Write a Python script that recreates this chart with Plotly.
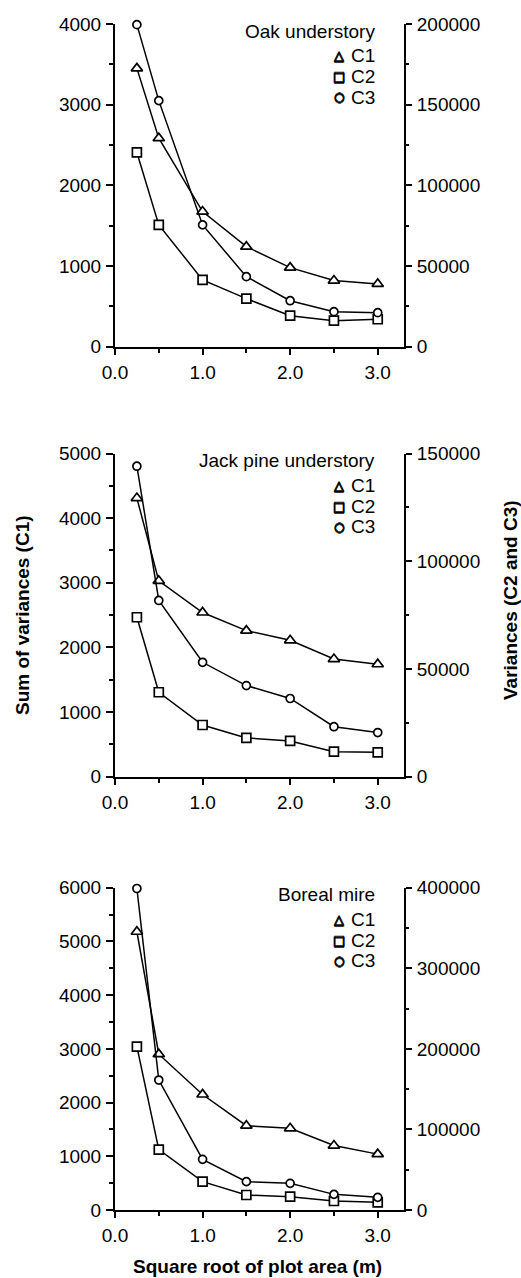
import plotly.graph_objects as go
from plotly.subplots import make_subplots

# square root of plot area (m)
x_root = [0.25, 0.5, 1.0, 1.5, 2.0, 2.5, 3.0]

# Oak understory
oak_c1 = [3450, 2585, 1675, 1240, 980, 820, 778]
oak_c2 = [120400, 75500, 41400, 29800, 19200, 16100, 17000]
oak_c3 = [199600, 152500, 75500, 43400, 28500, 21700, 21100]

# Jack pine understory
jack_c1 = [4310, 3030, 2540, 2260, 2110, 1820, 1740]
jack_c2 = [74000, 39200, 24000, 18000, 16600, 11600, 11300]
jack_c3 = [144100, 81800, 53100, 42300, 36300, 23200, 20500]

# Boreal mire
mire_c1 = [5180, 2900, 2150, 1570, 1520, 1200, 1040]
mire_c2 = [202700, 74900, 35200, 18600, 16500, 11200, 9500]
mire_c3 = [399000, 161300, 62900, 35200, 33100, 19400, 15700]

panel_names = ["Oak understory", "Jack pine understory", "Boreal mire"]
c1_max = [4000, 5000, 6000]
c23_max = [200000, 150000, 400000]
c23_dtick = [50000, 50000, 100000]

series = [
    (oak_c1, oak_c2, oak_c3),
    (jack_c1, jack_c2, jack_c3),
    (mire_c1, mire_c2, mire_c3),
]

W, H = 521, 1278
L, R, T, B = 115, 117, 24, 68
plot_h = H - T - B
panel_px = [(24, 346.7), (453.5, 776.7), (887.7, 1210)]


def py(p):
    # pixel row -> paper y
    return (H - B - p) / plot_h


def px(p):
    # pixel column -> paper x
    return (p - L) / (W - L - R)


FONT = "Liberation Sans, Arial, Helvetica, sans-serif"
tfont = dict(family=FONT, size=19, color="black")
# thicken the outline glyphs of the key a little
thick = "0.6px 0 0 black, -0.6px 0 0 black, 0 0.6px 0 black, 0 -0.6px 0 black"

fig = make_subplots(rows=3, cols=1, specs=[[{"secondary_y": True}]] * 3)

markers = [
    dict(symbol="triangle-up", size=10),
    dict(symbol="square", size=9),
    dict(symbol="circle", size=8),
]

for r, vals in enumerate(series):
    for k, v in enumerate(vals):
        fig.add_trace(
            go.Scatter(
                x=x_root,
                y=v,
                mode="lines+markers",
                name=f"C{k + 1}",
                showlegend=False,
                cliponaxis=False,
                line=dict(color="black", width=1.5),
                marker=dict(
                    color="white", line=dict(color="black", width=1.7), **markers[k]
                ),
            ),
            row=r + 1,
            col=1,
            secondary_y=(k > 0),
        )

    top, bot = panel_px[r]
    fig.update_xaxes(
        domain=[0, 1],
        range=[0, 3.3],
        tick0=0,
        dtick=1,
        tickformat=".1f",
        row=r + 1,
        col=1,
    )
    fig.update_yaxes(
        domain=[py(bot), py(top)],
        range=[0, c1_max[r]],
        dtick=1000,
        minor=dict(dtick=500, ticks="outside", ticklen=4, tickwidth=1.5, tickcolor="black"),
        row=r + 1,
        col=1,
        secondary_y=False,
    )
    fig.update_yaxes(
        range=[0, c23_max[r]],
        dtick=c23_dtick[r],
        ticklen=6,
        minor=dict(dtick=c23_dtick[r] / 2, ticks="outside", ticklen=3, tickwidth=1.5, tickcolor="black"),
        side="right",
        row=r + 1,
        col=1,
        secondary_y=True,
    )

    # in-panel key
    fig.add_annotation(
        x=px(377), y=py(top + 7), xref="paper", yref="paper",
        text=panel_names[r], showarrow=False, xanchor="right", yanchor="middle",
        font=tfont,
    )
    for k, (sym, size) in enumerate([("\u25b3", 13), ("\u25a1", 13), ("\u25cb", 12)]):
        yk = py(top + 32 + k * 20.5)
        fig.add_annotation(
            x=px(377), y=yk, xref="paper", yref="paper",
            text=f"C{k + 1}", showarrow=False, xanchor="right", yanchor="middle",
            font=tfont,
        )
        fig.add_annotation(
            x=px(339), y=yk, xref="paper", yref="paper",
            text=sym, showarrow=False, xanchor="center", yanchor="middle",
            font=dict(family="DejaVu Sans", size=size, color="black", shadow=thick),
        )

fig.update_xaxes(
    ticks="outside",
    ticklen=6,
    tickwidth=1.5,
    tickcolor="black",
    minor=dict(dtick=0.5, ticks="outside", ticklen=4, tickwidth=1.5, tickcolor="black"),
    showline=True,
    linecolor="black",
    linewidth=2,
    showgrid=False,
    zeroline=False,
    tickfont=tfont,
    ticklabelstandoff=1,
)
fig.update_yaxes(
    ticks="outside",
    tickwidth=1.5,
    tickcolor="black",
    tickformat="d",
    showline=True,
    linecolor="black",
    linewidth=2,
    showgrid=False,
    zeroline=False,
    tickfont=tfont,
    ticklabelstandoff=1,
)
fig.update_yaxes(ticklen=7, secondary_y=False)

# axis titles
bfont = dict(family=FONT, size=19, color="black", weight="bold")
fig.add_annotation(
    x=px(22), y=py(615), xref="paper", yref="paper", text="Sum of variances (C1)",
    textangle=-90, showarrow=False, xanchor="center", yanchor="middle", font=bfont,
)
fig.add_annotation(
    x=px(510), y=py(600), xref="paper", yref="paper", text="Variances (C2 and C3)",
    textangle=-90, showarrow=False, xanchor="center", yanchor="middle", font=bfont,
)
fig.add_annotation(
    x=px(257), y=py(1266), xref="paper", yref="paper", text="Square root of plot area (m)",
    showarrow=False, xanchor="center", yanchor="middle", font=bfont,
)

fig.update_layout(
    width=W,
    height=H,
    margin=dict(l=L, r=R, t=T, b=B),
    paper_bgcolor="white",
    plot_bgcolor="white",
    showlegend=False,
)

# drop the default 8px page margin so the figure sits at the window origin
fig.write_html(
    "out.html",
    config={"displayModeBar": False},
    post_script="document.body.style.margin = '0';",
)
